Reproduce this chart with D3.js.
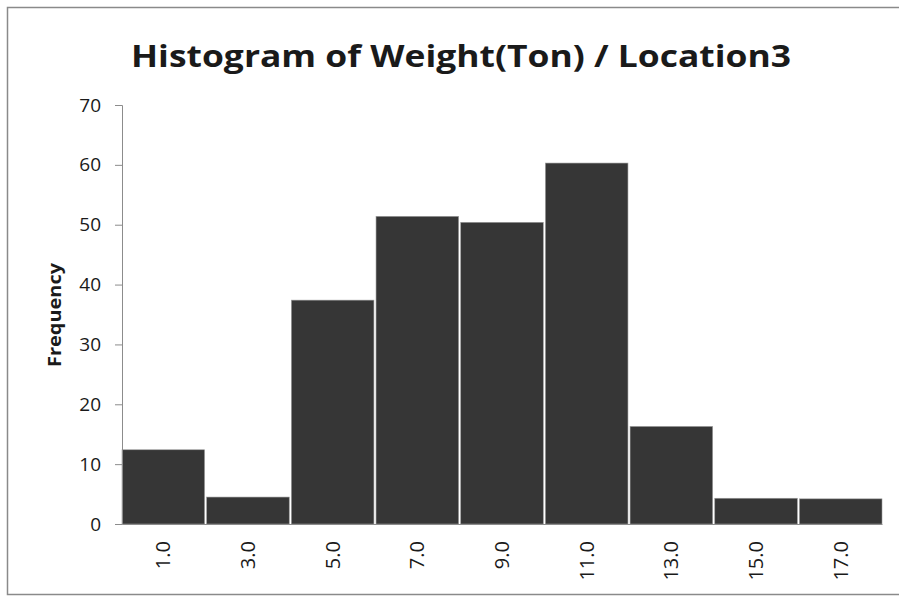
<!DOCTYPE html>
<html>
<head>
<meta charset="utf-8">
<script src="https://cdn.jsdelivr.net/npm/d3@7/dist/d3.min.js"></script>
<style>
  html, body { margin: 0; padding: 0; background: #fff; }
  svg { display: block; }
</style>
</head>
<body>
<svg id="chart" width="899" height="596"></svg>
<script>
const titleText = "Histogram of Weight(Ton) / Location3";
const yAxisTitle = "Frequency";
const binLabels = ["1.0", "3.0", "5.0", "7.0", "9.0", "11.0", "13.0", "15.0", "17.0"];
const frequencies = [12.4, 4.5, 37.4, 51.4, 50.4, 60.3, 16.3, 4.3, 4.2];
const yTicks = [0, 10, 20, 30, 40, 50, 60, 70];

const W = 899, H = 596;
const margin = { left: 122, right: 17, top: 105, bottom: 72 };
const svg = d3.select("#chart");

// outer border (picture frame)
svg.append("rect")
  .attr("x", 7.5).attr("y", 7.5)
  .attr("width", 910).attr("height", 587)
  .attr("fill", "none").attr("stroke", "#8a8a8a").attr("stroke-width", 1.5);

const x = d3.scaleBand()
  .domain(binLabels)
  .range([margin.left, W - margin.right])
  .paddingInner(0.025).paddingOuter(0.0);

const y = d3.scaleLinear()
  .domain([0, 70])
  .range([H - margin.bottom, margin.top]);

const font = "'Open Sans', 'Noto Sans', sans-serif";

// bars
svg.append("g").selectAll("rect")
  .data(frequencies)
  .join("rect")
  .attr("x", (d, i) => x(binLabels[i]))
  .attr("y", d => y(d))
  .attr("width", x.bandwidth())
  .attr("height", d => y(0) - y(d))
  .attr("fill", "#363636")
  .attr("stroke", "#9a9a9a")
  .attr("stroke-width", 0.6);

// y axis
const yAxis = svg.append("g")
  .attr("transform", `translate(${margin.left},0)`)
  .call(d3.axisLeft(y).tickValues(yTicks).tickSize(7).tickPadding(14).tickFormat(d3.format("d")));
yAxis.select(".domain").attr("stroke", "#8c8c8c");
yAxis.selectAll(".tick line").attr("stroke", "#8c8c8c");
yAxis.selectAll(".tick text")
  .attr("font-family", font).attr("font-size", 19).attr("fill", "#1a1a1a");

// x axis
const xAxis = svg.append("g")
  .attr("transform", `translate(0,${y(0)})`)
  .call(d3.axisBottom(x).tickSize(0).tickPadding(0));
xAxis.select(".domain").attr("stroke", "#8c8c8c");
xAxis.selectAll(".tick text")
  .attr("font-family", font).attr("font-size", 20).attr("fill", "#1a1a1a")
  .attr("text-anchor", "end")
  .attr("dy", "0.35em")
  .attr("transform", "translate(0,17) rotate(-90)")
  .attr("y", 0).attr("x", 0);

// title
svg.append("text")
  .attr("x", 461).attr("y", 67)
  .attr("text-anchor", "middle")
  .attr("font-family", font).attr("font-weight", "bold")
  .attr("font-size", 30)
  .attr("textLength", 660).attr("lengthAdjust", "spacingAndGlyphs")
  .attr("fill", "#1a1a1a")
  .text(titleText);

// y axis title
svg.append("text")
  .attr("transform", "translate(61,315) rotate(-90)")
  .attr("text-anchor", "middle")
  .attr("font-family", font).attr("font-weight", "bold")
  .attr("font-size", 18)
  .attr("textLength", 104).attr("lengthAdjust", "spacingAndGlyphs")
  .attr("fill", "#1a1a1a")
  .text(yAxisTitle);
</script>
</body>
</html>
